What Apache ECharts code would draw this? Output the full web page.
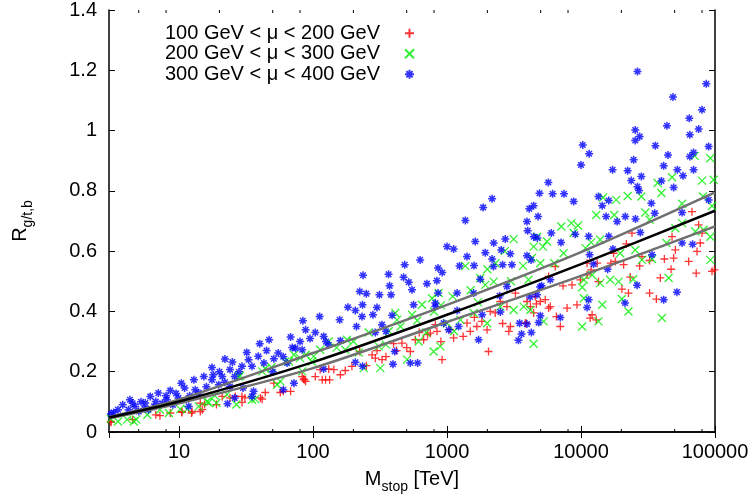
<!DOCTYPE html>
<html>
<head>
<meta charset="utf-8">
<title>R g/t,b vs M stop</title>
<script src="https://cdn.jsdelivr.net/npm/echarts@6/dist/echarts.min.js"></script>
<style>
  html, body { margin: 0; padding: 0; background: #fff; }
  #chart { width: 756px; height: 504px; }
</style>
</head>
<body>
<div id="chart"></div>
<script>
// series names (legend)
var seriesNames = ['100 GeV < μ < 200 GeV', '200 GeV < μ < 300 GeV', '300 GeV < μ < 400 GeV'];

// points: [M_stop (TeV), R]
var redPoints = [
  [3.1, 0.032], [3.1, 0.035], [4.5, 0.041], [6.7, 0.057], [7.2, 0.054], [8.6, 0.063], [10.5, 0.065], [10.5, 0.068],
  [12.4, 0.063], [12.5, 0.068], [14.4, 0.068], [14.4, 0.096], [14.9, 0.074], [15.5, 0.091], [19, 0.091], [21, 0.118],
  [24, 0.113], [26.3, 0.118], [29.5, 0.118], [29.5, 0.098], [31, 0.113], [40.5, 0.113], [41.7, 0.109], [44, 0.131],
  [51, 0.162], [57, 0.131], [60, 0.135], [68, 0.135], [83, 0.184], [85, 0.176], [86, 0.173], [88, 0.168],
  [104, 0.184], [113, 0.207], [117, 0.173], [124, 0.173], [131, 0.209], [133, 0.173], [143, 0.207], [160, 0.19],
  [174, 0.204], [195, 0.218], [223, 0.267], [250, 0.22], [276, 0.256], [292, 0.245], [300, 0.27], [327, 0.240],
  [350, 0.25], [399, 0.293], [420, 0.27], [461, 0.295], [500, 0.28], [532, 0.267], [580, 0.306], [620, 0.33],
  [669, 0.306], [716, 0.323], [750, 0.328], [818, 0.356], [841, 0.334], [900, 0.30], [918, 0.240], [1050, 0.34],
  [1120, 0.312], [1320, 0.317], [1410, 0.361], [1490, 0.334], [1600, 0.38], [1670, 0.350], [1820, 0.367], [1990, 0.339],
  [2040, 0.267], [2100, 0.40], [2290, 0.395], [2500, 0.433], [2600, 0.36], [2800, 0.416], [2890, 0.334], [2970, 0.350],
  [3240, 0.461], [3840, 0.361], [3910, 0.361], [3950, 0.433], [4190, 0.416], [4430, 0.395], [4560, 0.450], [4640, 0.425],
  [4970, 0.433], [5410, 0.439], [5730, 0.411], [5730, 0.516], [5900, 0.416], [6430, 0.549], [6550, 0.383], [7010, 0.350],
  [7340, 0.485], [7870, 0.411], [8570, 0.488], [9330, 0.422], [9890, 0.505], [11100, 0.521], [11100, 0.560], [11700, 0.378],
  [11900, 0.538], [12100, 0.389], [13000, 0.372], [13200, 0.560], [13500, 0.499], [16700, 0.560], [17500, 0.593], [18000, 0.566],
  [20200, 0.474], [20800, 0.555], [21800, 0.624], [22600, 0.461], [23300, 0.514], [24000, 0.660], [27400, 0.551], [28500, 0.582],
  [32500, 0.569], [32500, 0.461], [36500, 0.441], [39100, 0.511], [41900, 0.574], [47000, 0.540], [47800, 0.648], [49100, 0.577],
  [50600, 0.604], [63600, 0.566], [67300, 0.731], [72400, 0.527], [73400, 0.599], [75500, 0.687], [77600, 0.627], [80000, 0.660],
  [95000, 0.533], [99000, 0.538]
];

var greenPoints = [
  [3.1, 0.043], [3.5, 0.035], [4.1, 0.041], [4.6, 0.035], [4.8, 0.041], [5.8, 0.057], [7.2, 0.074], [8.4, 0.063],
  [10.2, 0.076], [11.5, 0.076], [14, 0.085], [16.2, 0.101], [16.6, 0.098], [18.4, 0.121], [19, 0.096], [22.8, 0.124],
  [26.8, 0.091], [27.9, 0.184], [28.6, 0.187], [35, 0.107], [37, 0.109], [41.7, 0.201], [44, 0.210], [49, 0.215],
  [54, 0.157], [57, 0.168], [62, 0.234], [66, 0.234], [72, 0.256], [80, 0.245], [83, 0.201], [88, 0.256],
  [98, 0.234], [101, 0.251], [113, 0.273], [131, 0.300], [150, 0.28], [174, 0.273], [179, 0.306], [200, 0.30],
  [219, 0.264], [239, 0.212], [260, 0.33], [309, 0.284], [318, 0.212], [350, 0.29], [367, 0.334], [411, 0.395],
  [424, 0.372], [450, 0.35], [503, 0.240], [548, 0.389], [600, 0.37], [614, 0.300], [650, 0.422], [700, 0.33],
  [773, 0.444], [794, 0.267], [800, 0.40], [866, 0.461], [891, 0.284], [900, 0.42], [1000, 0.361], [1100, 0.45],
  [1130, 0.334], [1260, 0.372], [1370, 0.551], [1500, 0.47], [1580, 0.395], [1700, 0.43], [1770, 0.511], [1930, 0.488],
  [1990, 0.361], [2000, 0.54], [2230, 0.499], [2300, 0.56], [2500, 0.416], [2700, 0.60], [3000, 0.50], [3140, 0.640],
  [3140, 0.405], [3690, 0.551], [3730, 0.416], [4060, 0.505], [4190, 0.405], [4300, 0.577], [4430, 0.293], [4430, 0.615],
  [4700, 0.648], [4970, 0.560], [5200, 0.615], [5260, 0.367], [5570, 0.632], [6320, 0.560], [7130, 0.682], [7410, 0.593],
  [8470, 0.693], [8810, 0.660], [9500, 0.685], [10200, 0.480], [10200, 0.350], [10500, 0.505], [10500, 0.444], [10800, 0.610],
  [11900, 0.629], [12100, 0.521], [13000, 0.720], [13500, 0.367], [13900, 0.638], [13900, 0.494], [14400, 0.422], [14600, 0.778],
  [16500, 0.505], [17700, 0.720], [18300, 0.770], [19100, 0.499], [19600, 0.593], [20200, 0.441], [22300, 0.783], [22600, 0.400],
  [24500, 0.507], [25400, 0.604], [28200, 0.781], [28500, 0.571], [30200, 0.728], [32500, 0.704], [33900, 0.574], [37300, 0.826],
  [39800, 0.793], [40200, 0.378], [43400, 0.627], [45100, 0.511], [47800, 0.845], [50600, 0.676], [56800, 0.757], [56800, 0.693],
  [70500, 0.916], [71300, 0.665], [80000, 0.834], [81300, 0.781], [82200, 0.671], [92300, 0.908], [92300, 0.571], [92300, 0.648],
  [95000, 0.750], [97700, 0.837]
];

var bluePoints = [
  [3.1, 0.060], [3.25, 0.065], [3.5, 0.074], [3.8, 0.090], [4.2, 0.074], [4.3, 0.107], [4.5, 0.095], [4.7, 0.085],
  [5.0, 0.068], [5.2, 0.100], [5.5, 0.078], [5.6, 0.096], [5.9, 0.074], [6.1, 0.118], [6.5, 0.085], [6.7, 0.101],
  [7.0, 0.129], [7.5, 0.095], [8.0, 0.120], [8.1, 0.107], [8.6, 0.138], [9.0, 0.090], [9.5, 0.128], [9.9, 0.113],
  [10.4, 0.162], [11, 0.146], [11.8, 0.085], [12, 0.120], [12.9, 0.173], [13.2, 0.140], [14, 0.130], [15.3, 0.184],
  [16, 0.150], [17.6, 0.214], [17.6, 0.173], [18, 0.190], [19.8, 0.157], [20, 0.200], [21, 0.184], [22, 0.242],
  [22, 0.165], [23, 0.094], [24, 0.207], [24, 0.151], [25, 0.232], [26, 0.184], [26, 0.113], [28, 0.200],
  [29.5, 0.218], [30, 0.146], [32, 0.264], [33, 0.240], [35, 0.218], [36, 0.135], [35, 0.118], [39, 0.251],
  [40, 0.293], [43, 0.229], [45, 0.270], [47, 0.306], [50, 0.200], [51, 0.243], [55, 0.262], [60, 0.140],
  [60, 0.250], [64, 0.229], [68, 0.315], [70, 0.280], [72, 0.162], [74, 0.278], [80, 0.300], [83, 0.273],
  [84, 0.369], [88, 0.339], [95, 0.310], [104, 0.330], [112, 0.383], [120, 0.317], [120, 0.209], [125, 0.300],
  [131, 0.289], [158, 0.372], [160, 0.303], [182, 0.414], [207, 0.403], [207, 0.231], [211, 0.350], [223, 0.466],
  [232, 0.383], [234, 0.422], [234, 0.218], [236, 0.520], [250, 0.459], [280, 0.389], [291, 0.330], [300, 0.413],
  [313, 0.455], [327, 0.356], [350, 0.334], [366, 0.523], [373, 0.485], [382, 0.455], [389, 0.387], [395, 0.225],
  [407, 0.267], [474, 0.513], [483, 0.555], [518, 0.497], [532, 0.229], [548, 0.472], [563, 0.422], [603, 0.229],
  [630, 0.571], [708, 0.492], [818, 0.428], [818, 0.416], [840, 0.502], [857, 0.544], [857, 0.461], [920, 0.529],
  [944, 0.361], [1000, 0.615], [1030, 0.339], [1120, 0.607], [1190, 0.461], [1190, 0.403], [1220, 0.350], [1240, 0.551],
  [1370, 0.702], [1410, 0.582], [1580, 0.461], [1590, 0.552], [1625, 0.632], [1720, 0.306], [1770, 0.507], [1830, 0.389],
  [1860, 0.745], [1930, 0.595], [2170, 0.774], [2170, 0.574], [2220, 0.549], [2230, 0.627], [2470, 0.452], [2500, 0.398],
  [2540, 0.604], [2600, 0.555], [2720, 0.640], [2800, 0.483], [2970, 0.591], [3050, 0.555], [3410, 0.304], [3480, 0.361],
  [3600, 0.325], [3950, 0.698], [3950, 0.585], [3950, 0.358], [4000, 0.668], [4110, 0.741], [4170, 0.448], [4240, 0.571],
  [4260, 0.330], [4430, 0.751], [4440, 0.648], [4690, 0.455], [4720, 0.644], [4780, 0.715], [4830, 0.363], [4900, 0.792],
  [4950, 0.481], [4970, 0.386], [5080, 0.485], [5700, 0.828], [5900, 0.505], [6000, 0.660], [6140, 0.790], [7010, 0.380],
  [7090, 0.629], [7470, 0.790], [8810, 0.765], [9060, 0.656], [10000, 0.886], [10300, 0.952], [11100, 0.413], [11400, 0.649],
  [11400, 0.439], [11500, 0.923], [11600, 0.588], [12400, 0.557], [13500, 0.781], [14400, 0.751], [15400, 0.715], [15800, 0.540],
  [16100, 0.768], [16100, 0.649], [17200, 0.870], [17300, 0.607], [18600, 0.698], [21300, 0.428], [21400, 0.715], [22300, 0.867],
  [23700, 0.834], [24700, 0.903], [25400, 1.002], [25400, 0.967], [25500, 0.707], [26200, 0.487], [26400, 1.196], [26400, 0.814],
  [27100, 0.801], [27400, 0.980], [27700, 0.662], [28200, 0.848], [33500, 0.759], [33900, 0.588], [35500, 0.726], [35900, 0.950],
  [39800, 0.833], [41400, 0.883], [41400, 0.439], [43800, 1.016], [44600, 0.919], [48600, 1.111], [49100, 0.811], [52000, 0.464],
  [52400, 0.870], [56800, 0.728], [56800, 0.627], [57700, 0.850], [64300, 1.041], [64900, 0.986], [64900, 0.914], [68000, 0.623],
  [69200, 0.927], [69200, 0.870], [75500, 1.005], [80000, 1.069], [86100, 1.155], [89600, 0.947], [89600, 0.770]
];

// fit curves, read at each decade
var fitM = [3, 10, 100, 1000, 10000, 100000];
var fitMid = [0.048, 0.101, 0.232, 0.389, 0.557, 0.734];
var fitUpper = [0.050, 0.108, 0.262, 0.422, 0.597, 0.795];
var fitLower = [0.045, 0.095, 0.212, 0.365, 0.518, 0.682];

// axis ticks
var xMajorTicks = [10, 100, 1000, 10000, 100000];
var xMinorTicks = [5, 8, 20, 50, 80, 200, 500, 800, 2000, 5000, 8000, 20000, 50000, 80000];

var FONT = '"Liberation Sans", Arial, Helvetica, sans-serif';

var plusPath = 'path://M5,0L5,10M0,5L10,5';
var crossPath = 'path://M0,0L10,10M10,0L0,10';
var starPath = 'path://M5,0L5,10M0,5L10,5M1.5,1.5L8.5,8.5M8.5,1.5L1.5,8.5';

function zip(xs, ys) {
  return xs.map(function (x, i) { return [x, ys[i]]; });
}

function scatterSeries(name, data, symbol, color, width) {
  return {
    name: name,
    type: 'scatter',
    data: data,
    symbol: symbol,
    symbolSize: 8,
    itemStyle: {
      color: 'rgba(0,0,0,0)',
      borderColor: color,
      borderWidth: width
    },
    emphasis: { disabled: true },
    z: 2
  };
}

function fitSeries(data, color, z) {
  return {
    type: 'line',
    data: data,
    smooth: 0.3,
    showSymbol: false,
    symbol: 'none',
    lineStyle: { color: color, width: 2.5 },
    z: z,
    silent: true
  };
}

function initChart(dom) {
  var myChart = echarts.init(dom, null, { renderer: 'canvas' });
  var option = {
    animation: false,
    backgroundColor: '#fff',
    textStyle: { fontFamily: FONT },
    grid: { left: 109, right: 41, top: 10, bottom: 72 },
    legend: {
      orient: 'vertical',
      left: 160,
      top: 18,
      align: 'right',
      itemGap: 0,
      itemWidth: 9,
      itemHeight: 9,
      textStyle: { fontFamily: FONT, fontSize: 20, lineHeight: 20.5, color: '#000', padding: [0, 20, 0, 0] },
      data: seriesNames
    },
    xAxis: [{
      type: 'log',
      logBase: 10,
      min: 3,
      max: 100000,
      position: 'bottom',
      name: '{a|M}{b|stop}{a| [TeV]}',
      nameLocation: 'middle',
      nameGap: 32,
      nameTextStyle: {
        rich: {
          a: { fontFamily: FONT, fontSize: 20, lineHeight: 30, color: '#000', verticalAlign: 'middle' },
          b: { fontFamily: FONT, fontSize: 14, lineHeight: 14, color: '#000', verticalAlign: 'bottom' }
        }
      },
      axisLine: { lineStyle: { color: '#000', width: 1.5 } },
      axisTick: { inside: true, length: 6, lineStyle: { color: '#000' } },
      axisLabel: {
        color: '#000',
        fontFamily: FONT,
        fontSize: 20,
        margin: 10,
        showMinLabel: false,
        formatter: function (v) {
          var r = Math.round(v);
          return xMajorTicks.indexOf(r) >= 0 ? String(r) : '';
        }
      },
      splitLine: { show: false }
    }, {
      type: 'log',
      logBase: 10,
      min: 3,
      max: 100000,
      position: 'top',
      axisLine: { lineStyle: { color: '#000', width: 1.5 } },
      axisTick: { inside: true, length: 6, lineStyle: { color: '#000' } },
      axisLabel: { show: false },
      splitLine: { show: false }
    }],
    yAxis: [{
      type: 'value',
      min: 0,
      max: 1.4,
      interval: 0.2,
      position: 'left',
      name: '{a|R}{b|g/t,b}',
      nameLocation: 'middle',
      nameRotate: 90,
      nameGap: 74,
      nameTextStyle: {
        rich: {
          a: { fontFamily: FONT, fontSize: 20, lineHeight: 30, color: '#000', verticalAlign: 'middle' },
          b: { fontFamily: FONT, fontSize: 14, lineHeight: 14, color: '#000', verticalAlign: 'bottom' }
        }
      },
      axisLine: { show: true, lineStyle: { color: '#000', width: 1.5 } },
      axisTick: { show: true, inside: true, length: 6, lineStyle: { color: '#000' } },
      axisLabel: { color: '#000', fontFamily: FONT, fontSize: 20, margin: 12 },
      splitLine: { show: false }
    }, {
      type: 'value',
      min: 0,
      max: 1.4,
      interval: 0.2,
      position: 'right',
      axisLine: { show: true, lineStyle: { color: '#000', width: 1.5 } },
      axisTick: { show: true, inside: true, length: 6, lineStyle: { color: '#000' } },
      axisLabel: { show: false },
      splitLine: { show: false }
    }],
    series: [
      scatterSeries(seriesNames[0], redPoints, plusPath, '#ff0000', 1.3),
      scatterSeries(seriesNames[1], greenPoints, crossPath, '#00ee00', 1.3),
      scatterSeries(seriesNames[2], bluePoints, starPath, '#0000ff', 1.5),
      fitSeries(zip(fitM, fitUpper), '#707070', 3),
      fitSeries(zip(fitM, fitLower), '#707070', 3),
      fitSeries(zip(fitM, fitMid), '#000000', 4),
      {
        // minor ticks on bottom and top axes (2, 5, 8 per decade)
        type: 'custom',
        silent: true,
        clip: false,
        z: 5,
        data: xMinorTicks.map(function (v) { return [v, 0]; }),
        renderItem: function (params, api) {
          var bottom = api.coord([api.value(0), 0]);
          var top = api.coord([api.value(0), 1.4]);
          var style = { stroke: '#000', lineWidth: 1 };
          return {
            type: 'group',
            children: [
              { type: 'line', shape: { x1: bottom[0], y1: bottom[1], x2: bottom[0], y2: bottom[1] - 3 }, style: style },
              { type: 'line', shape: { x1: top[0], y1: top[1], x2: top[0], y2: top[1] + 3 }, style: style }
            ]
          };
        }
      }
    ]
  };
  myChart.setOption(option, true);
  return myChart;
}

initChart(document.getElementById('chart'));
</script>
</body>
</html>
